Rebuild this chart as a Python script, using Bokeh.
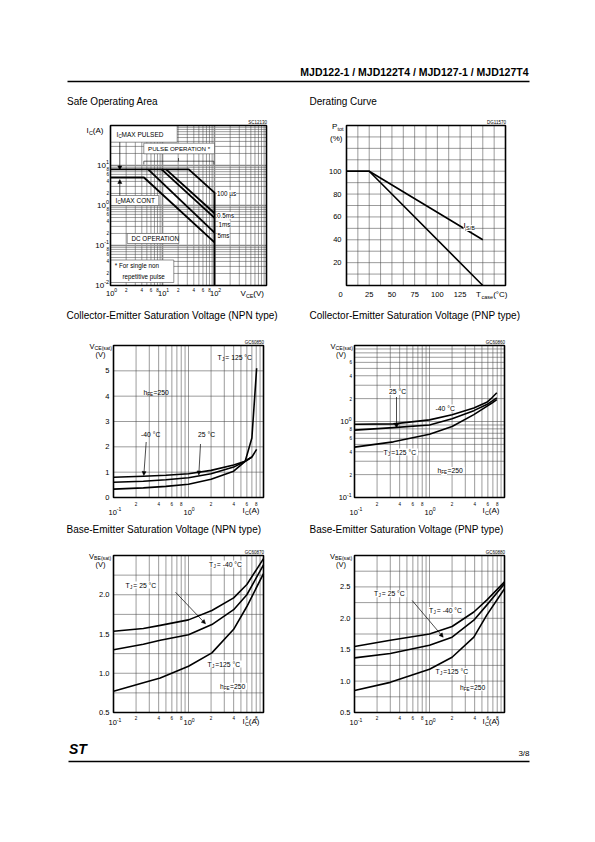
import math
from bokeh.plotting import figure
from bokeh.models import (Label, Range1d, LogScale, LinearScale, Arrow, NormalHead,
                          ColumnDataSource)
from bokeh.core.properties import value
from bokeh.embed import file_html
from bokeh.resources import INLINE

# ---------------- data ----------------
header_text = "MJD122-1 / MJD122T4 / MJD127-1 / MJD127T4"
page_number = "3/8"
chart_titles = ["Safe Operating Area", "Derating Curve",
                "Collector-Emitter Saturation Voltage (NPN type)",
                "Collector-Emitter Saturation Voltage (PNP type)",
                "Base-Emitter Saturation Voltage (NPN type)",
                "Base-Emitter Saturation Voltage (PNP type)"]
chart_codes = ["SC12130", "DG11570", "GC60850", "GC60860", "GC60870", "GC60880"]

# Safe operating area (VCE [V], IC [A])
soa_100us_vce = [1, 32, 100, 100]
soa_100us_ic = [8, 8, 2.1, 0.01]
soa_05ms_vce = [11.7, 100]
soa_05ms_ic = [8, 0.64]
soa_1ms_vce = [9.6, 100]
soa_1ms_ic = [8, 0.49]
soa_5ms_vce = [5.3, 100]
soa_5ms_ic = [8, 0.21]
soa_dc_vce = [1, 4.4, 100]
soa_dc_ic = [5, 5, 0.12]
soa_x_decades = [1, 10, 100]
soa_x_exps = ["0", "1", "2"]
soa_y_decades = [0.01, 0.1, 1, 10]
soa_y_exps = ["-2", "-1", "0", "1"]
soa_x_minor_labels = [2, 4, 6, 8, 20, 40, 60, 80]
soa_y_minor_labels = [0.02, 0.04, 0.06, 0.08, 0.2, 0.4, 0.6, 0.8, 2, 4, 6, 8]

# Derating curve (Tcase [C], Ptot [%])
derate_tcase = [0, 25, 150]
derate_ptot = [100, 100, 0]
derate_ptot_sb = [100, 100, 40]
derate_x_ticks = [0, 25, 50, 75, 100, 125]
derate_y_ticks = [20, 40, 60, 80, 100]

# VCE(sat) NPN (IC [A], V)
vce_npn_ic_m40 = [0.1, 0.25, 0.5, 1, 2, 4, 5.7, 7, 8.1]
vce_npn_m40 = [0.80, 0.84, 0.88, 0.94, 1.07, 1.28, 1.43, 1.6, 1.9]
vce_npn_ic_25 = [0.1, 0.25, 0.5, 1, 2, 4, 5.7, 7]
vce_npn_25 = [0.60, 0.64, 0.70, 0.78, 0.94, 1.2, 1.43, 1.6]
vce_npn_ic_125 = [0.1, 0.25, 0.5, 1, 2, 4, 5.7, 7, 8.1]
vce_npn_125 = [0.33, 0.38, 0.44, 0.52, 0.72, 1.04, 1.43, 2.35, 5.1]
vce_npn_y_ticks = [0, 1, 2, 3, 4, 5]

# VCE(sat) PNP
vce_pnp_ic = [0.1, 0.33, 1, 2, 3.9, 5.8, 6.8, 7.9]
vce_pnp_m40 = [0.92, 0.93, 1.05, 1.23, 1.51, 1.79, 2.05, 2.39]
vce_pnp_25 = [0.77, 0.83, 0.90, 1.09, 1.39, 1.67, 1.85, 2.05]
vce_pnp_125 = [0.46, 0.54, 0.68, 0.86, 1.23, 1.58, 1.75, 1.94]
vce_pnp_y_decades = [0.1, 1]
vce_pnp_y_exps = ["-1", "0"]
vce_pnp_y_minor_labels = [0.2, 0.4, 0.6, 0.8, 2, 4, 6]

# VBE(sat) NPN
vbe_npn_ic = [0.1, 0.25, 0.42, 1, 2.05, 4, 6, 10]
vbe_npn_m40 = [1.535, 1.57, 1.61, 1.68, 1.80, 1.96, 2.13, 2.46]
vbe_npn_25 = [1.30, 1.37, 1.42, 1.49, 1.62, 1.81, 2.0, 2.38]
vbe_npn_125 = [0.77, 0.88, 0.94, 1.09, 1.26, 1.56, 1.85, 2.27]
vbe_npn_y_ticks = [0.5, 1.0, 1.5, 2.0]

# VBE(sat) PNP
vbe_pnp_ic = [0.1, 0.3, 1, 2, 3.9, 5.8, 10]
vbe_pnp_m40 = [1.55, 1.65, 1.75, 1.87, 2.1, 2.29, 2.58]
vbe_pnp_25 = [1.37, 1.44, 1.57, 1.7, 1.97, 2.21, 2.55]
vbe_pnp_125 = [0.85, 0.98, 1.19, 1.38, 1.7, 2.05, 2.47]
vbe_pnp_y_ticks = [0.5, 1.0, 1.5, 2.0, 2.5]

# common log x axis of the saturation charts
sat_x_decades = [0.1, 1]
sat_x_exps = ["-1", "0"]
sat_x_minor_labels = [0.2, 0.4, 0.6, 0.8, 2, 4, 6, 8]

# ---------------- style / page ----------------
SANS = "Liberation Sans"
GRID = "#4a4a4a"
PW, PH = 594, 840


def log_grid(lo_exp, hi_exp):
    return [k * 10 ** e for e in range(lo_exp, hi_exp) for k in range(1, 10)][1:]


def lin_grid(a, b, step):
    n = int(round((b - a) / step))
    return [a + step * k for k in range(1, n)]


class Geo:
    """Maps the chart's plot box (page pixels) to its data ranges."""
    def __init__(s, name, fl, ft, fr, fb, xr, yr, xlog=False, ylog=False):
        s.nx, s.ny = name + "x", name + "y"
        s.fl, s.ft, s.fr, s.fb = fl, ft, fr, fb
        s.xr, s.yr, s.xlog, s.ylog = xr, yr, xlog, ylog

    @staticmethod
    def _f(v, lg):
        return math.log10(v) if lg else v

    @staticmethod
    def _i(v, lg):
        return 10 ** v if lg else v

    def x(s, px):
        a, b = s._f(s.xr[0], s.xlog), s._f(s.xr[1], s.xlog)
        return s._i(a + (px - s.fl) / (s.fr - s.fl) * (b - a), s.xlog)

    def y(s, py):
        a, b = s._f(s.yr[0], s.ylog), s._f(s.yr[1], s.ylog)
        return s._i(a + (s.fb - py) / (s.fb - s.ft) * (b - a), s.ylog)

    def px(s, x):
        a, b = s._f(s.xr[0], s.xlog), s._f(s.xr[1], s.xlog)
        return s.fl + (s._f(x, s.xlog) - a) / (b - a) * (s.fr - s.fl)

    def py(s, y):
        a, b = s._f(s.yr[0], s.ylog), s._f(s.yr[1], s.ylog)
        return s.fb - (s._f(y, s.ylog) - a) / (b - a) * (s.fb - s.ft)


g1 = Geo("c1", 110, 125, 266, 285, (1, 1000), (0.01, 100), True, True)
g2 = Geo("c2", 346, 125, 505, 285, (0, 175), (0, 140))
g3 = Geo("c3", 113, 345, 263, 497, (0.1, 10), (0, 6), True, False)
g4 = Geo("c4", 354, 345, 504, 497, (0.1, 10), (0.1, 10), True, True)
g5 = Geo("c5", 113, 555, 263, 712, (0.1, 10), (0.5, 2.5), True, False)
g6 = Geo("c6", 354, 555, 504, 712, (0.1, 10), (0.5, 3.0), True, False)
GEOS = [g1, g2, g3, g4, g5, g6]

p = figure(width=PW, height=PH, x_range=Range1d(0, PW), y_range=Range1d(PH, 0),
           output_backend="svg", toolbar_location=None, min_border=0,
           x_axis_location=None, y_axis_location=None)
p.grid.visible = False
p.outline_line_color = None
p.background_fill_color = "white"
p.border_fill_color = "white"

xr_, yr_, xs_, ys_ = {}, {}, {}, {}
for g in GEOS:
    xr_[g.nx] = Range1d(g.x(0), g.x(PW))
    yr_[g.ny] = Range1d(g.y(PH), g.y(0))
    xs_[g.nx] = LogScale() if g.xlog else LinearScale()
    ys_[g.ny] = LogScale() if g.ylog else LinearScale()
p.extra_x_ranges = xr_
p.extra_y_ranges = yr_
p.extra_x_scales = xs_
p.extra_y_scales = ys_


def tw(text, size):
    w = 0.0
    for ch in text:
        if ch in "il.,:;|!'":
            f = 0.24
        elif ch in "fjtrI()[]-/":
            f = 0.32
        elif ch == " ":
            f = 0.28
        elif ch in "mwMW":
            f = 0.85
        elif ch.isupper():
            f = 0.68
        elif ch.isdigit():
            f = 0.556
        elif ch == "\u00b0":
            f = 0.4
        elif ch == "=":
            f = 0.584
        else:
            f = 0.54
        w += f * size
    return w


def txt(px, py, text, size=7, align="left", bold=False, italic=False, bg=False):
    style = "bold" if bold else "normal"
    if italic:
        style = "bold italic" if bold else "italic"
    lab = Label(x=px, y=py, text=text, text_font=SANS,
                text_font_size=f"{size}px", text_align=align,
                text_baseline="middle", text_color="black", text_font_style=style)
    if bg:
        lab.background_fill_color = "white"
    p.add_layout(lab)


def rich(px, py, parts, size=7, bg=False):
    x = px
    for text, kind in parts:
        if kind == "n":
            s, dy = size, 0.0
        elif kind == "b":  # subscript
            s, dy = size * 0.68, size * 0.32
        else:  # superscript
            s, dy = size * 0.68, -size * 0.4
        txt(x, py + dy, text, s, bg=bg)
        x += tw(text, s)


def digit_label(v):
    e = math.floor(math.log10(v) + 1e-9)
    return str(int(round(v / 10 ** e)))


def grid(g, xs, ys, color=GRID, width=0.55):
    if xs:
        p.segment(x0=xs, x1=xs, y0=[g.yr[0]] * len(xs), y1=[g.yr[1]] * len(xs),
                  x_range_name=g.nx, y_range_name=g.ny, line_color=color, line_width=width)
    if ys:
        p.segment(x0=[g.xr[0]] * len(ys), x1=[g.xr[1]] * len(ys), y0=ys, y1=ys,
                  x_range_name=g.nx, y_range_name=g.ny, line_color=color, line_width=width)


def frame(g):
    p.quad(left=[g.xr[0]], right=[g.xr[1]], bottom=[g.yr[0]], top=[g.yr[1]],
           x_range_name=g.nx, y_range_name=g.ny, fill_color=None,
           line_color="black", line_width=1.6)


def curve(g, xs, ys, width=1.6):
    p.line(xs, ys, x_range_name=g.nx, y_range_name=g.ny, line_color="black",
           line_width=width, line_join="round")


def wbox(l, t, r, b):
    p.quad(left=[l], right=[r], top=[t], bottom=[b], fill_color="white",
           line_color=GRID, line_width=0.6)


def x_tick_text(g, vals, labels, py, size, xoff=None):
    src = ColumnDataSource(dict(x=vals, y=[py] * len(vals), t=labels,
                                xo=xoff if xoff else [0] * len(vals)))
    p.text(x="x", y="y", text="t", x_offset="xo", source=src, x_range_name=g.nx,
           text_align="center", text_baseline="middle", text_font=value(SANS),
           text_font_size=value(f"{size}px"), text_color="black")


def y_tick_text(g, vals, labels, px, size):
    src = ColumnDataSource(dict(x=[px] * len(vals), y=vals, t=labels))
    p.text(x="x", y="y", text="t", source=src, y_range_name=g.ny,
           text_align="right", text_baseline="middle", text_font=value(SANS),
           text_font_size=value(f"{size}px"), text_color="black")


def x_decades(g, vals, exps, py, size=7.5, shift=5):
    for v, e in zip(vals, exps):
        rich(g.px(v) - shift, py, [("10", "n"), (e, "p")], size)


def y_decades(g, vals, exps, right_px, size=7.5):
    for v, e in zip(vals, exps):
        w = tw("10", size) + tw(e, size * 0.68)
        rich(right_px - w, g.py(v), [("10", "n"), (e, "p")], size)


def arrow(a, b, size=4):
    p.add_layout(Arrow(x_start=a[0], y_start=a[1], x_end=b[0], y_end=b[1],
                       line_width=0.7, line_color="black",
                       end=NormalHead(size=size, fill_color="black", line_color="black",
                                      line_width=0.5)))


# ---------- grids ----------
grid(g1, log_grid(0, 3), log_grid(-2, 2))
grid(g1, [10, 100], [0.1, 1, 10], color="#8a8a8a", width=1.6)
grid(g2, lin_grid(0, 175, 12.5), lin_grid(0, 140, 10))
grid(g3, log_grid(-1, 1), lin_grid(0, 6, 1))
grid(g4, log_grid(-1, 1), log_grid(-1, 1))
grid(g5, log_grid(-1, 1), lin_grid(0.5, 2.5, 0.25))
grid(g6, log_grid(-1, 1), lin_grid(0.5, 3.0, 0.25))

# ---------- white label boxes (chart 1) ----------
wbox(110, 125, 176.7, 141.7)
wbox(143.3, 142.7, 214, 153.3)
wbox(110, 195, 158.3, 205)
wbox(126.7, 233, 178.3, 243)
wbox(110, 259.5, 173.3, 282)

# ---------- curves ----------
for vx, iy in [(soa_100us_vce, soa_100us_ic), (soa_05ms_vce, soa_05ms_ic),
               (soa_1ms_vce, soa_1ms_ic), (soa_5ms_vce, soa_5ms_ic),
               (soa_dc_vce, soa_dc_ic)]:
    curve(g1, vx, iy, 1.9)
curve(g2, derate_tcase, derate_ptot_sb)
curve(g2, derate_tcase, derate_ptot)
curve(g3, vce_npn_ic_m40, vce_npn_m40)
curve(g3, vce_npn_ic_25, vce_npn_25)
curve(g3, vce_npn_ic_125, vce_npn_125)
for ys in (vce_pnp_m40, vce_pnp_25, vce_pnp_125):
    curve(g4, vce_pnp_ic, ys)
for ys in (vbe_npn_m40, vbe_npn_25, vbe_npn_125):
    curve(g5, vbe_npn_ic, ys)
for ys in (vbe_pnp_m40, vbe_pnp_25, vbe_pnp_125):
    curve(g6, vbe_pnp_ic, ys)
for g in GEOS:
    frame(g)

# ---------- page header / footer ----------
txt(528, 71.5, header_text, 10.5, align="right", bold=True)
p.line([67, 529], [81, 81], line_color="black", line_width=1.3)
txt(68.5, 748, "ST", 14, bold=True, italic=True)
txt(529, 752.5, page_number, 8, align="right")
p.line([68, 529], [761, 761], line_color="black", line_width=1.3)

title_pos = [(66.5, 101), (309, 101), (66, 315), (309, 315), (66, 529), (309, 529)]
for (tx, ty), t in zip(title_pos, chart_titles):
    txt(tx, ty, t, 10)
for g, c in zip(GEOS, chart_codes):
    txt(g.fr + 0.5, g.ft - 3.5, c, 4.5, align="right")

# ---------- chart 1 texts ----------
bx, by = [143.3, 143.3, 213.3, 213.3], [164, 160.7, 160.7, 164]
p.line(bx, by, line_color="black", line_width=0.6)
p.line([178, 178], [160.7, 157.5], line_color="black", line_width=0.6)
rich(116, 133.5, [("I", "n"), ("C", "b"), (" MAX PULSED", "n")], 6.5)
txt(147.5, 148.2, "PULSE OPERATION *", 6.2)
rich(115, 199.8, [("I", "n"), ("C", "b"), (" MAX CONT", "n")], 6.5)
txt(131, 238.2, "DC OPERATION", 6.3)
txt(114.3, 265.3, "* For single non", 6.3)
txt(122, 275.6, "repetitive pulse", 6.3)
txt(216.5, 193.3, "100 \u00b5s", 6.3, bg=True)
txt(216.5, 215, "0.5ms", 6.3, bg=True)
txt(218, 223.5, "1ms", 6.3, bg=True)
txt(217, 235, "5ms", 6.3, bg=True)
arrow((119.3, 141.7), (119.3, 169.5))
arrow((119.3, 195), (119.3, 179))
rich(86, 129.5, [("I", "n"), ("C", "b"), (" (A)", "n")], 8)
y_decades(g1, soa_y_decades, soa_y_exps, 108.5, 8)
x_decades(g1, soa_x_decades, soa_x_exps, 292.5, 7.5, 4.5)
x_tick_text(g1, soa_x_minor_labels, [digit_label(v) for v in soa_x_minor_labels], 289, 4.5)
y_tick_text(g1, soa_y_minor_labels, [digit_label(v) for v in soa_y_minor_labels], 108.5, 4.5)
rich(240, 292.5, [("V", "n"), ("CE", "b"), (" (V)", "n")], 8)

# ---------- chart 2 texts ----------
x_tick_text(g2, derate_x_ticks, [str(v) for v in derate_x_ticks], 293.5, 7.5,
            xoff=[-6, 0, 0, 0, 0, 0])
y_tick_text(g2, derate_y_ticks, [str(v) for v in derate_y_ticks], 341, 7.5)
rich(331.5, 125.5, [("P", "n"), ("tot", "b")], 8)
txt(329.5, 137.5, "(%)", 8)
rich(475.5, 293.5, [("T", "n"), ("case", "b"), (" (\u00b0C)", "n")], 8)
rich(463, 225, [("I", "n"), ("S/B", "b")], 8, bg=True)

# ---------- chart 3 texts ----------
y_tick_text(g3, vce_npn_y_ticks, [str(v) for v in vce_npn_y_ticks], 109, 7.5)
x_tick_text(g3, sat_x_minor_labels, [digit_label(v) for v in sat_x_minor_labels], 503, 4.5)
x_decades(g3, sat_x_decades, sat_x_exps, 511.5, 7.5, 5)
rich(89, 345.5, [("V", "n"), ("CE(sat)", "b")], 7.5)
txt(95, 354, "(V)", 7.5)
rich(242, 510, [("I", "n"), ("C", "b"), (" (A)", "n")], 8)
rich(217, 356.5, [("T", "n"), ("J", "b"), (" = 125 \u00b0C", "n")], 6.8)
rich(143, 391.5, [("h", "n"), ("FE", "b"), (" =250", "n")], 6.8)
txt(140.5, 433.5, "-40 \u00b0C", 6.8)
txt(197.5, 433.5, "25 \u00b0C", 6.8)
arrow((145.7, 441.5), (143.3, 475))
arrow((200, 443.5), (198.3, 474.5))

# ---------- chart 4 texts ----------
y_tick_text(g4, vce_pnp_y_minor_labels, [digit_label(v) for v in vce_pnp_y_minor_labels], 351.5, 4.5)
y_decades(g4, vce_pnp_y_decades, vce_pnp_y_exps, 351, 7.5)
x_tick_text(g4, sat_x_minor_labels, [digit_label(v) for v in sat_x_minor_labels], 503, 4.5)
x_decades(g4, sat_x_decades, sat_x_exps, 511.5, 7.5, 5)
rich(330, 345.5, [("V", "n"), ("CE(sat)", "b")], 7.5)
txt(335.5, 354, "(V)", 7.5)
rich(482, 510, [("I", "n"), ("C", "b"), (" (A)", "n")], 8)
txt(388.5, 391, "25 \u00b0C", 6.8, bg=True)
arrow((396, 396.5), (396, 427.5))
txt(435, 407.5, "-40 \u00b0C", 6.8, bg=True)
rich(383, 451.5, [("T", "n"), ("J", "b"), (" =125 \u00b0C", "n")], 6.8, bg=True)
rich(437, 470, [("h", "n"), ("FE", "b"), (" =250", "n")], 6.8, bg=True)

# ---------- chart 5 texts ----------
y_tick_text(g5, vbe_npn_y_ticks, [f"{v:.1f}" for v in vbe_npn_y_ticks], 109, 7.5)
x_tick_text(g5, sat_x_minor_labels, [digit_label(v) for v in sat_x_minor_labels], 717, 4.5)
x_decades(g5, sat_x_decades, sat_x_exps, 722, 7.5, 5)
rich(88.5, 555.5, [("V", "n"), ("BE(sat)", "b")], 7.5)
txt(95, 564, "(V)", 7.5)
rich(242, 720.5, [("I", "n"), ("C", "b"), (" (A)", "n")], 8)
rich(208.5, 563.5, [("T", "n"), ("J", "b"), (" = -40 \u00b0C", "n")], 6.8, bg=True)
rich(125, 584.5, [("T", "n"), ("J", "b"), (" = 25 \u00b0C", "n")], 6.8, bg=True)
arrow((175, 591.7), (205, 623.3))
rich(207, 663.5, [("T", "n"), ("J", "b"), (" =125 \u00b0C", "n")], 6.8, bg=True)
rich(219.5, 685.7, [("h", "n"), ("FE", "b"), (" =250", "n")], 6.8, bg=True)

# ---------- chart 6 texts ----------
y_tick_text(g6, vbe_pnp_y_ticks, [f"{v:.1f}" for v in vbe_pnp_y_ticks], 350, 7.5)
x_tick_text(g6, sat_x_minor_labels, [digit_label(v) for v in sat_x_minor_labels], 717, 4.5)
x_decades(g6, sat_x_decades, sat_x_exps, 722, 7.5, 5)
rich(329.5, 555.5, [("V", "n"), ("BE(sat)", "b")], 7.5)
txt(335.5, 564, "(V)", 7.5)
rich(482, 720.5, [("I", "n"), ("C", "b"), (" (A)", "n")], 8)
rich(373.5, 593.3, [("T", "n"), ("J", "b"), (" = 25 \u00b0C", "n")], 6.8, bg=True)
arrow((411.7, 600), (442.7, 636.7))
rich(428.5, 610, [("T", "n"), ("J", "b"), (" = -40 \u00b0C", "n")], 6.8, bg=True)
rich(435, 671, [("T", "n"), ("J", "b"), (" =125 \u00b0C", "n")], 6.8, bg=True)
rich(459.5, 686.7, [("h", "n"), ("FE", "b"), (" =250", "n")], 6.8, bg=True)

open("out.html", "w").write(file_html(p, INLINE))
